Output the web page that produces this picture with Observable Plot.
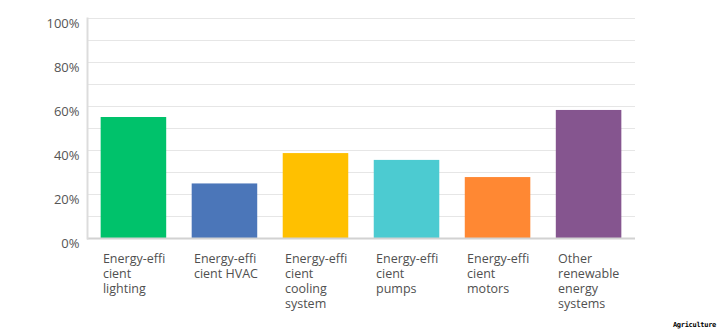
<!DOCTYPE html>
<html>
<head>
<meta charset="utf-8">
<script src="https://cdn.jsdelivr.net/npm/d3@7"></script>
<script src="https://cdn.jsdelivr.net/npm/@observablehq/plot@0.6"></script>
<style>
  html, body { margin: 0; padding: 0; background: #fff; }
  #wrap { position: relative; width: 722px; height: 332px; overflow: hidden; }
  #note { position: absolute; right: 6px; bottom: 3px; font: bold 7px "DejaVu Sans Mono", monospace; color: #000; letter-spacing: -0.3px; }
</style>
</head>
<body>
<div id="wrap"><div id="note">Agriculture</div></div>
<script>
const categories = [
  "Energy-efficient lighting",
  "Energy-efficient HVAC",
  "Energy-efficient cooling system",
  "Energy-efficient pumps",
  "Energy-efficient motors",
  "Other renewable energy systems"
];
const tickLabels = [
  "Energy-effi\ncient\nlighting",
  "Energy-effi\ncient HVAC",
  "Energy-effi\ncient\ncooling\nsystem",
  "Energy-effi\ncient\npumps",
  "Energy-effi\ncient\nmotors",
  "Other\nrenewable\nenergy\nsystems"
];
const values = [55, 24.8, 38.6, 35.5, 27.7, 58.2];
const colors = ["#00c26b", "#4b76b9", "#ffc000", "#4ccbd1", "#ff8833", "#85558f"];
const yTicks = [0, 20, 40, 60, 80, 100];
const gridTicks = [10, 20, 30, 40, 50, 60, 70, 80, 90, 100];

const data = categories.map((c, i) => ({category: c, value: values[i], color: colors[i], label: tickLabels[i]}));
const labelOf = new Map(data.map(d => [d.category, d.label]));

const chart = Plot.plot({
  width: 722,
  height: 332,
  marginLeft: 87,
  marginRight: 87,
  marginTop: 18,
  marginBottom: 94,
  style: {fontFamily: "'Open Sans', sans-serif", background: "#fff"},
  x: {domain: categories, paddingInner: 0.28, paddingOuter: 0.15, round: false, label: null},
  y: {domain: [0, 100], label: null},
  marks: [
    Plot.gridY(gridTicks, {stroke: "#e6e6e6", strokeOpacity: 1, strokeWidth: 1}),
    Plot.barY(data, {x: "category", y: "value", fill: "color"}),
    Plot.ruleY([0], {stroke: "#d2d2d2", strokeWidth: 2}),
    Plot.frame({anchor: "left", stroke: "#dcdcdc", strokeWidth: 2}),
    Plot.axisY(yTicks, {tickSize: 0, tickPadding: 8, dy: 5, tickFormat: d => d + "%", fontSize: 13, fill: "#555", label: null}),
    Plot.axisX({tickSize: 0, tickPadding: 14, textAnchor: "start", dx: -31, lineAnchor: "top", lineHeight: 1.2, fontSize: 12.5, fill: "#505050", tickFormat: d => labelOf.get(d), label: null})
  ]
});
document.getElementById("wrap").prepend(chart);
</script>
</body>
</html>
